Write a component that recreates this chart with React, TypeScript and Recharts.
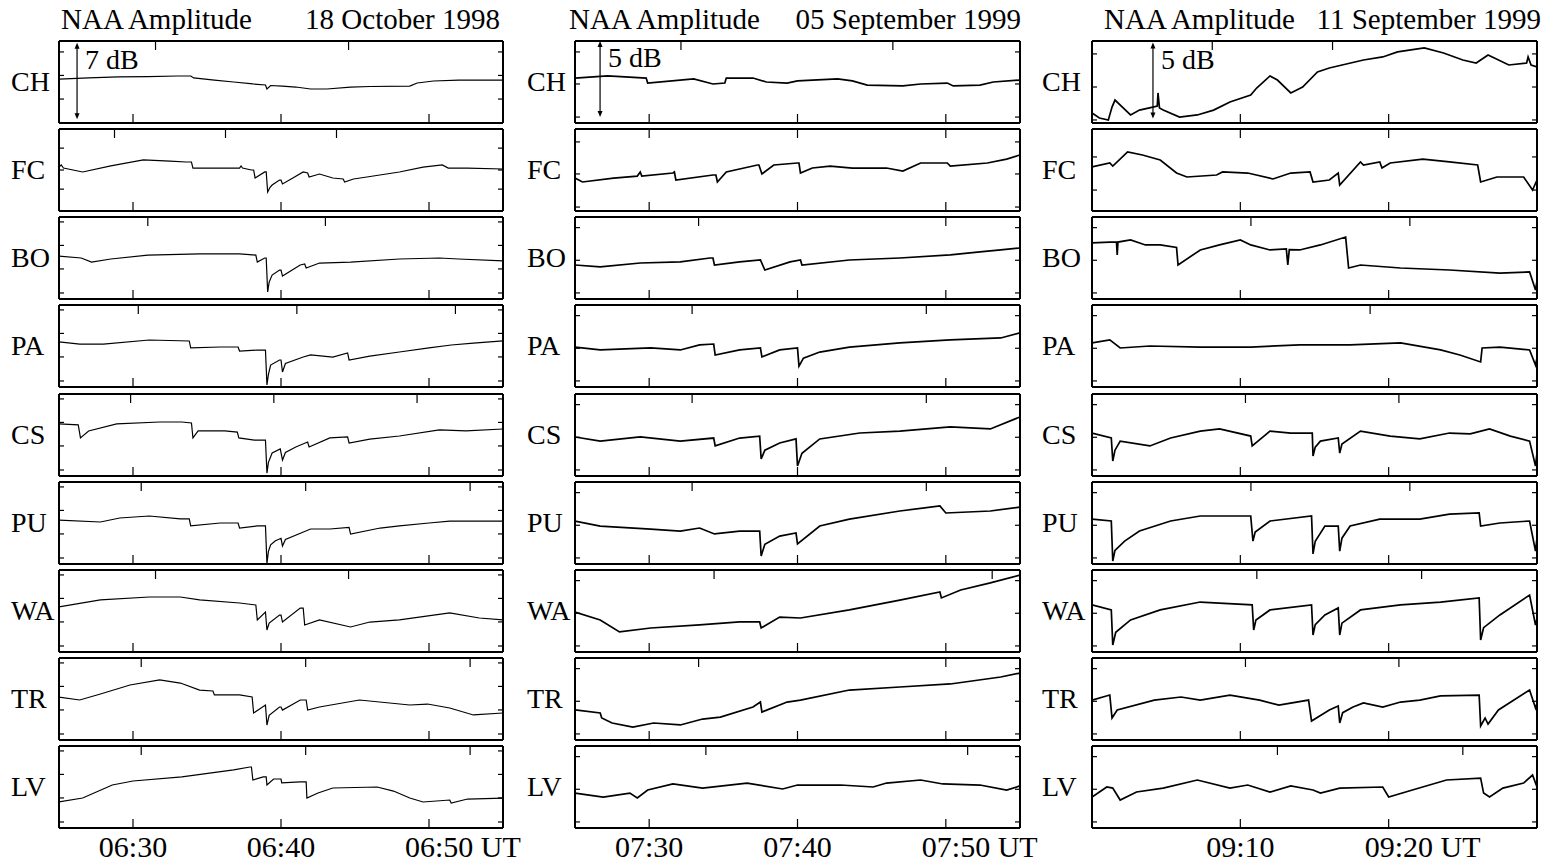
import React from 'react';
import { LineChart, Line, XAxis, YAxis, ReferenceLine } from 'recharts';

type Pt = [number, number];

const STATIONS = ['CH', 'FC', 'BO', 'PA', 'CS', 'PU', 'WA', 'TR', 'LV'];

// 18 October 1998: minutes after 06:25 UT, amplitude in dB relative to panel middle
const oct18CH: Pt[] = [[0, 0.27], [2, 0.37], [4, 0.46], [6, 0.5], [8, 0.55], [8.9, 0.55], [9.1, 0.37], [10.5, 0.18], [11.8, 0], [13.1, -0.18], [13.95, -0.27], [14.05, -0.64], [14.3, -0.32], [15.1, -0.37], [16, -0.46], [17, -0.64], [18.1, -0.64], [19.7, -0.46], [21, -0.41], [23.7, -0.37], [24.2, -0.09], [25.3, 0.09], [27, 0.18], [30, 0.18]];
const oct18FC: Pt[] = [[0, 0.27], [0.15, 0.46], [0.3, 0.18], [1.6, -0.18], [3.5, 0.37], [5.7, 0.92], [7.5, 0.82], [8.6, 0.73], [8.95, 0.73], [9.05, 0.18], [11, 0.18], [12.2, 0.18], [12.3, 0.37], [12.4, 0.18], [13, 0], [13.15, 0], [13.25, -0.73], [13.9, -0.18], [14.0, -0.18], [14.1, -2.01], [14.25, -1.6], [14.4, -1.37], [14.9, -0.92], [15.0, -0.92], [15.1, -1.28], [15.8, -0.73], [16.5, -0.18], [16.8, -0.27], [16.9, -0.64], [17.6, -0.37], [18.5, -0.73], [19.2, -0.82], [19.3, -1.1], [19.9, -0.82], [20.8, -0.64], [23, -0.18], [24.6, 0.27], [25.9, 0.46], [26.3, 0.18], [27.6, 0.18], [30, 0.09]];
const oct18BO: Pt[] = [[0, 0.18], [1.5, 0], [2.2, -0.37], [3.5, -0.09], [6, 0.27], [9.5, 0.37], [12.2, 0.37], [13.3, 0.27], [13.4, -0.37], [13.9, 0], [14.0, 0], [14.1, -3.11], [14.2, -2.2], [14.4, -1.56], [14.9, -1.1], [15.0, -1.1], [15.1, -1.65], [16.3, -0.64], [16.6, -0.55], [16.7, -0.92], [17.6, -0.46], [19.7, -0.37], [23, -0.09], [25.7, 0], [27, -0.09], [30, -0.27]];
const oct18PA: Pt[] = [[0, 0.37], [1.4, 0.18], [3, 0.18], [6.1, 0.55], [8.8, 0.46], [8.9, -0.18], [10.9, -0.09], [12.1, -0.09], [12.2, -0.46], [13.4, -0.37], [13.95, -0.37], [14.05, -3.57], [14.15, -2.6], [14.3, -1.74], [14.9, -1.28], [15.0, -1.28], [15.1, -2.38], [15.3, -1.6], [16.5, -1.01], [17, -0.82], [18.5, -1.01], [19.5, -0.64], [19.6, -1.28], [21, -0.92], [23, -0.55], [25, -0.18], [26.5, 0.09], [28, 0.27], [30, 0.46]];
const oct18CS: Pt[] = [[0, 1.01], [1.3, 0.92], [1.45, -0.27], [2, 0.37], [3.9, 1.01], [6.8, 1.19], [8.3, 1.19], [8.95, 1.1], [9.05, -0.27], [9.4, 0.37], [11.2, 0.37], [12.05, 0.27], [12.15, -0.27], [13.2, -0.46], [13.95, -0.46], [14.05, -3.48], [14.15, -2.5], [14.4, -1.65], [14.95, -1.28], [15.1, -2.29], [15.3, -1.6], [16, -1.1], [16.8, -0.64], [16.9, -1.1], [18.3, -0.27], [19.5, -0.18], [19.6, -0.73], [21, -0.37], [23, -0.09], [25.7, 0.46], [27.5, 0.37], [30, 0.55]];
const oct18PU: Pt[] = [[0, 0.27], [2.8, 0.09], [4.1, 0.46], [6.1, 0.64], [8.2, 0.37], [8.8, 0.37], [8.9, -0.27], [10.9, 0], [12.1, 0], [12.2, -0.46], [13.4, -0.27], [13.95, -0.27], [14.05, -3.7], [14.15, -2.6], [14.3, -2.0], [14.6, -1.65], [15.0, -1.4], [15.1, -2.1], [15.3, -1.5], [17, -0.55], [18.3, -0.55], [19.6, -0.4], [19.7, -1.01], [21.7, -0.46], [23, -0.27], [25, 0], [26.4, 0.18], [30, 0.18]];
const oct18WA: Pt[] = [[0, 0.37], [2.8, 1.01], [6.1, 1.28], [8.2, 1.28], [9.5, 1.01], [12.2, 0.73], [13.3, 0.55], [13.4, -0.82], [13.95, -0.09], [14.05, -1.74], [14.2, -1.1], [14.9, -0.37], [15.0, -0.37], [15.1, -1.01], [16.3, 0.27], [16.5, 0.27], [16.6, -1.28], [17.6, -0.82], [19.7, -1.46], [21, -1.01], [23, -0.82], [26.4, -0.18], [28.4, -0.64], [30, -0.82]];
const oct18TR: Pt[] = [[0, 0.18], [1.4, -0.09], [2.8, 0.46], [4.8, 1.28], [6.8, 1.74], [8.2, 1.46], [9.5, 0.82], [10.4, 0.73], [10.5, 0.37], [12.2, 0.37], [13.05, 0.18], [13.15, -1.28], [13.95, -0.55], [14.05, -2.38], [14.2, -1.5], [14.9, -0.73], [15.0, -0.73], [15.1, -1.01], [16.3, -0.09], [16.7, -0.09], [16.8, -1.01], [17.6, -0.73], [20.3, -0.09], [23.7, -0.55], [24.9, -0.46], [26.4, -0.82], [28, -1.46], [30, -1.28]];
const oct18LV: Pt[] = [[0, -1.37], [1.6, -1.01], [3.6, 0.18], [5, 0.55], [8.3, 0.92], [11.8, 1.56], [12.9, 1.83], [13.0, 1.83], [13.1, 0.64], [13.8, 0.92], [14.0, 0.92], [14.05, 0.18], [14.5, 0.73], [15.0, 0.73], [15.05, 0.37], [16.3, 0.46], [16.7, 0.46], [16.75, -1.01], [17.5, -0.55], [18.5, -0.09], [21.5, 0], [22.6, -0.37], [23.7, -1.01], [24.6, -1.37], [26.4, -1.19], [26.5, -1.46], [27.6, -1.1], [30, -1.01]];

// 05 September 1999: minutes after 07:25 UT
const sep05CH: Pt[] = [[0, 0.26], [2.2, 0.4], [4.8, 0.26], [4.9, -0.07], [8, 0.2], [9.3, -0.13], [10.1, -0.07], [10.2, 0.26], [12, 0.26], [12.9, 0], [14.3, -0.07], [15, 0.07], [17.7, 0.2], [18.7, 0.07], [19.7, -0.2], [22.1, -0.26], [23.3, -0.13], [25.1, -0.07], [25.5, -0.26], [27.3, -0.2], [28.2, 0], [30, 0.13]];
const sep05FC: Pt[] = [[0, -0.53], [0.5, -0.79], [2.6, -0.53], [4.2, -0.4], [4.4, -0.13], [4.5, -0.4], [6.6, -0.2], [6.7, -0.13], [6.8, -0.66], [9.3, -0.33], [9.5, -0.33], [9.6, -0.79], [10.2, -0.13], [12.3, 0.33], [12.4, 0.33], [12.6, -0.26], [13.4, 0.33], [15.0, 0.46], [15.1, 0.46], [15.2, -0.2], [16, 0.13], [17.2, 0.26], [18.7, 0.13], [21, 0.13], [22.1, -0.07], [23.3, 0.46], [25.1, 0.46], [25.3, 0.26], [27.8, 0.46], [29.1, 0.72], [30, 0.99]];
const sep05BO: Pt[] = [[0, -0.46], [1.7, -0.59], [4.4, -0.33], [7.1, -0.26], [9.1, 0], [9.3, 0], [9.4, -0.46], [11.1, -0.26], [12.5, -0.13], [12.8, -0.79], [14.5, -0.26], [15.2, -0.13], [15.3, -0.46], [18.5, -0.13], [21.9, 0], [25.3, 0.2], [27.3, 0.4], [28.7, 0.53], [30, 0.66]];
const sep05PA: Pt[] = [[0, -0.07], [1.7, -0.26], [5.1, -0.13], [7.1, -0.26], [8.4, 0.07], [9.35, 0.13], [9.45, -0.59], [11.1, -0.26], [12.5, -0.13], [12.6, -0.72], [13.8, -0.26], [15.0, -0.13], [15.1, -1.32], [15.4, -0.8], [16.5, -0.4], [18.5, -0.07], [21.9, 0.2], [25.3, 0.4], [28.7, 0.53], [30, 0.86]];
const sep05CS: Pt[] = [[0, -0.13], [1.7, -0.4], [4.4, -0.13], [7.1, -0.4], [9.35, -0.2], [9.45, -0.72], [11.1, -0.2], [12.45, -0.07], [12.55, -1.58], [12.8, -1.0], [13.8, -0.53], [14.9, -0.26], [15.0, -2.04], [15.3, -1.2], [16.5, -0.26], [19.2, 0.13], [21.9, 0.26], [25.3, 0.53], [28, 0.4], [30, 1.19]];
const sep05PU: Pt[] = [[0, 0.13], [1.7, -0.2], [5.1, -0.4], [7.1, -0.53], [8.4, -0.33], [9.4, -0.72], [11.1, -0.53], [12.45, -0.53], [12.55, -2.17], [12.8, -1.4], [13.8, -0.86], [14.9, -0.66], [15.0, -1.38], [16.5, -0.2], [18.5, 0.26], [21.9, 0.79], [24.6, 1.12], [25, 0.66], [28, 0.79], [30, 1.05]];
const sep05WA: Pt[] = [[0, -0.07], [1.7, -0.59], [3, -1.38], [5.1, -1.12], [8.4, -0.92], [11.1, -0.72], [12.45, -0.72], [12.55, -1.12], [13.8, -0.4], [15.2, -0.46], [18.5, 0.07], [21.9, 0.72], [24.6, 1.25], [24.7, 0.86], [26, 1.38], [28, 1.85], [30, 2.37]];
const sep05TR: Pt[] = [[0, -0.72], [1.7, -0.92], [1.8, -1.25], [2.5, -1.58], [3.9, -1.85], [5.3, -1.58], [7.1, -1.71], [8.6, -1.32], [9.8, -1.19], [12, -0.53], [12.5, -0.2], [12.6, -0.86], [14.3, -0.2], [15.2, -0.07], [18.5, 0.59], [21.9, 0.79], [25.3, 0.99], [28.7, 1.45], [30, 1.71]];
const sep05LV: Pt[] = [[0, -0.4], [1.9, -0.66], [3.7, -0.4], [4.2, -0.72], [4.9, -0.2], [6.6, 0.2], [8.6, -0.07], [11.6, 0.26], [14, -0.13], [15, 0.13], [17.9, 0.13], [20.1, 0], [21, 0.26], [23.3, 0.46], [24.8, 0.2], [27.3, 0.13], [29.1, -0.2], [30, 0.07]];

// 11 September 1999: minutes after 09:00 UT
const sep11CH: Pt[] = [[0, -2.04], [0.5, -2.37], [1.1, -2.5], [1.35, -1.65], [1.55, -1.19], [2.4, -1.98], [2.6, -2.17], [3.2, -1.85], [4.1, -1.65], [4.4, -1.58], [4.45, -0.72], [4.55, -1.71], [4.8, -1.85], [5.9, -2.31], [7.1, -2.17], [8.2, -1.85], [9.3, -1.32], [10.7, -0.86], [11.1, -0.4], [12, 0.4], [12.5, 0.13], [13.4, -0.72], [14.2, -0.33], [15.2, 0.66], [16, 0.92], [18.3, 1.45], [19.6, 1.65], [20.6, 1.98], [22.4, 2.24], [23.7, 1.91], [25, 1.45], [25.9, 1.25], [26.7, 1.78], [28.1, 1.12], [29.3, 1.25], [29.4, 1.65], [29.6, 1.12], [30, 0.99]];
const sep11FC: Pt[] = [[0, 0.2], [1.2, 0.46], [1.4, 0.26], [2.4, 1.19], [3.4, 0.99], [4.6, 0.66], [5.7, -0.2], [6.4, -0.46], [8.4, -0.33], [8.8, -0.13], [10.5, -0.2], [12.2, -0.59], [13.4, -0.2], [14.7, -0.13], [14.9, -0.79], [16, -0.66], [16.6, -0.2], [16.7, -0.99], [18.1, 0.53], [18.3, 0.33], [19.4, 0.53], [19.55, 0.13], [20.1, 0.46], [22.3, 0.72], [24.1, 0.53], [26, 0.33], [26.2, -0.79], [27.3, -0.46], [29.1, -0.46], [29.7, -1.32], [30, -0.66]];
const sep11BO: Pt[] = [[0, 0.99], [1.2, 1.05], [1.65, 1.05], [1.7, 0.2], [1.75, 1.05], [2.6, 1.19], [3.6, 0.86], [4.6, 0.86], [5.7, 0.7], [5.8, -0.46], [7.3, 0.53], [8.6, 0.86], [10, 1.19], [10.7, 0.86], [12, 0.53], [13.1, 0.6], [13.2, -0.46], [13.3, 0.55], [14, 0.53], [15.4, 0.86], [17.1, 1.38], [17.3, -0.66], [18.1, -0.46], [20.8, -0.66], [24.1, -0.79], [27.5, -0.99], [29.5, -0.92], [29.9, -2.11], [30, -1.5]];
const sep11PA: Pt[] = [[0, 0.2], [1.2, 0.4], [1.9, -0.13], [3.9, 0], [7.3, -0.07], [10.7, -0.07], [14, 0.07], [17.4, 0.07], [20.8, 0.2], [23.5, -0.26], [24.8, -0.59], [26.2, -1.05], [26.3, -0.13], [27.5, -0.07], [29.5, -0.26], [29.9, -1.25], [30, -0.8]];
const sep11CS: Pt[] = [[0, 0.13], [1.3, -0.2], [1.4, -1.71], [1.55, -1.0], [1.9, -0.4], [3.9, -0.72], [5.3, -0.2], [7.3, 0.26], [8.6, 0.4], [10.7, -0.07], [10.8, -0.72], [12, 0.26], [13.4, 0.13], [14.85, 0.13], [14.9, -1.38], [15.05, -0.8], [15.4, -0.4], [16.6, -0.2], [16.7, -1.19], [16.85, -0.6], [18.1, 0.26], [20.1, -0.07], [22.1, -0.26], [24.1, 0.13], [25.5, 0.07], [26.8, 0.4], [28.2, -0.07], [29.5, -0.4], [29.9, -2.04], [30, -1.2]];
const sep11PU: Pt[] = [[0, 0.26], [1.3, 0.13], [1.4, -2.5], [1.55, -1.8], [2.2, -1.19], [3.2, -0.53], [5.3, 0.13], [7.3, 0.46], [10.7, 0.46], [10.85, -1.19], [11.0, -0.6], [12, 0.13], [14.8, 0.46], [14.9, -2.04], [15.05, -1.2], [15.7, -0.2], [16.6, -0.2], [16.7, -1.85], [16.85, -1.0], [17.4, -0.2], [19.4, 0.26], [22.1, 0.26], [24.1, 0.59], [26.1, 0.66], [26.2, -0.2], [27.5, 0], [29.5, 0.13], [29.9, -1.85], [30, -1]];
const sep11WA: Pt[] = [[0, 0.4], [1.3, 0.07], [1.4, -2.24], [1.6, -1.4], [2.6, -0.59], [4.6, 0.07], [7.3, 0.59], [10.8, 0.4], [10.9, -1.25], [11.05, -0.6], [12, 0.07], [14.8, 0.4], [14.9, -1.58], [15.05, -0.9], [15.7, -0.26], [16.6, 0.2], [16.7, -1.58], [16.85, -0.8], [18.1, 0.07], [20.8, 0.4], [23.5, 0.59], [26.1, 0.86], [26.2, -1.91], [26.4, -1.1], [27.5, -0.26], [29.5, 1.05], [29.9, -0.92], [30, -0.5]];
const sep11TR: Pt[] = [[0, -0.07], [1.2, 0.26], [1.35, -1.25], [1.7, -0.72], [4.2, -0.07], [6, 0.13], [7.3, -0.07], [9.3, 0.26], [11.3, -0.07], [12.6, -0.4], [14.6, -0.07], [14.8, -1.45], [16, -0.72], [16.6, -0.46], [16.7, -1.58], [16.9, -0.9], [17.6, -0.53], [18.3, -0.26], [19.6, -0.53], [20.8, -0.2], [22.1, -0.07], [23.5, 0.2], [26.1, 0.26], [26.2, -1.78], [26.5, -1.25], [26.7, -1.65], [27.4, -0.72], [29.5, 0.59], [29.9, -0.59], [30, -0.3]];
const sep11LV: Pt[] = [[0, -0.66], [1, 0], [1.4, -0.07], [1.9, -0.86], [3, -0.33], [4.8, -0.07], [7.1, 0.46], [9.3, -0.07], [10.5, 0.13], [12, -0.33], [13.4, 0.07], [14.9, -0.2], [15.4, -0.4], [16.7, -0.07], [19.6, 0], [20, -0.66], [21.6, -0.2], [23.9, 0.46], [26.2, 0.59], [26.4, -0.4], [26.8, -0.66], [27.7, -0.07], [29.1, 0.26], [29.7, 0.79], [30, 0]];

// y tick marks on the panel frames (dB)
const oct18Ticks = [[2.75, 0.6, -1.56], [2.0, 0, -1.75], [3.3, 1.15, -1.0, -3.2], [3.3, 1.15, -1.0, -3.2], [3.3, 1.15, -1.0, -3.2], [3.3, 1.15, -1.0, -3.2], [3.3, 1.15, -1.0, -3.2], [3.3, 1.15, -1.0, -3.2], [3.3, 1.15, -1.0, -3.2]];
const sep05Ticks = [[1.98, -0.13, -2.31], [1.85, -0.26, -2.44], [2.0, -0.15, -2.3], [2.0, -0.15, -2.3], [2.0, -0.15, -2.3], [2.0, -0.15, -2.3], [2.0, -0.15, -2.3], [2.0, -0.15, -2.3], [2.0, -0.15, -2.3]];
const sep11Ticks = [[1.85, -0.33, -2.5], [0.86, -1.32], [2.0, -0.15, -2.3], [2.0, -0.15, -2.3], [2.0, -0.15, -2.3], [2.0, -0.15, -2.3], [2.0, -0.15, -2.3], [2.0, -0.15, -2.3], [2.0, -0.15, -2.3]];

const FONT = "'Liberation Serif', 'Times New Roman', Times, serif";
const PANEL_TOP = 41;
const PANEL_STEP = 88.125;
const PANEL_H = 82;
const A = 2; // room given to each frame axis
const LABEL_ROOM = 36;
const LABEL_OVERHANG = 24;

interface Column {
  date: string;
  left: number;
  width: number;
  titleLeft: number;
  dateRight: number;
  labelLeft: number;
  span: number;
  scaleDb: number;
  scaleT: number;
  scaleFrom: number;
  timeTicks: number[];
  timeLabels: string[];
  series: Pt[][];
  yTicks: number[][];
  lineWidth: number;
}

const COLUMNS: Column[] = [
  {
    date: '18 October 1998', left: 59, width: 444, titleLeft: 61, dateRight: 500, labelLeft: 11,
    span: 7.5, scaleDb: 7, scaleT: 1.22, scaleFrom: -3.4,
    timeTicks: [5, 15, 25], timeLabels: ['06:30', '06:40', '06:50 UT'],
    series: [oct18CH, oct18FC, oct18BO, oct18PA, oct18CS, oct18PU, oct18WA, oct18TR, oct18LV],
    yTicks: oct18Ticks, lineWidth: 1.2,
  },
  {
    date: '05 September 1999', left: 575, width: 445, titleLeft: 569, dateRight: 1021, labelLeft: 527,
    span: 5.4, scaleDb: 5, scaleT: 1.69, scaleFrom: -2.3,
    timeTicks: [5, 15, 25], timeLabels: ['07:30', '07:40', '07:50 UT'],
    series: [sep05CH, sep05FC, sep05BO, sep05PA, sep05CS, sep05PU, sep05WA, sep05TR, sep05LV],
    yTicks: sep05Ticks, lineWidth: 1.7,
  },
  {
    date: '11 September 1999', left: 1092, width: 445, titleLeft: 1104, dateRight: 1541, labelLeft: 1042,
    span: 5.4, scaleDb: 5, scaleT: 4.11, scaleFrom: -2.4,
    timeTicks: [10, 20], timeLabels: ['09:10', '09:20 UT'],
    series: [sep11CH, sep11FC, sep11BO, sep11PA, sep11CS, sep11PU, sep11WA, sep11TR, sep11LV],
    yTicks: sep11Ticks, lineWidth: 1.7,
  },
];

const NoLabel = () => <g />;

function ScaleArrow(props: any) {
  const { x1, y1, y2, text } = props;
  const top = Math.min(y1, y2);
  const bot = Math.max(y1, y2);
  return (
    <g>
      <line x1={x1} y1={top + 4} x2={x1} y2={bot - 4} stroke="#000" strokeWidth={1.2} />
      <polygon points={`${x1},${top} ${x1 - 2.5},${top + 6} ${x1 + 2.5},${top + 6}`} fill="#000" />
      <polygon points={`${x1},${bot} ${x1 - 2.5},${bot - 6} ${x1 + 2.5},${bot - 6}`} fill="#000" />
      <text x={x1 + 8} y={top + 26} fontFamily={FONT} fontSize={28} fill="#000">{text}</text>
    </g>
  );
}

function TimeTick(props: any) {
  const { x, y, payload, col } = props;
  const label = col.timeLabels[col.timeTicks.indexOf(payload.value)] ?? '';
  const ut = label.endsWith(' UT');
  return (
    <text x={ut ? x - 24 : x} y={y + 29} textAnchor={ut ? 'start' : 'middle'} fontFamily={FONT} fontSize={30} fill="#000">
      {label}
    </text>
  );
}

function Panel({ col, row }: { col: Column; row: number }) {
  const last = row === STATIONS.length - 1;
  const data = col.series[row].map(([t, v]) => ({ t, v }));
  const half = col.span / 2;
  const top = PANEL_TOP + row * PANEL_STEP;
  const frame = { stroke: '#000', strokeWidth: 2 };
  const tickLine = { stroke: '#000', strokeWidth: 1.2 };
  const below = last ? LABEL_ROOM : 0;
  const right = last ? LABEL_OVERHANG : 0;
  return (
    <div style={{ position: 'absolute', left: col.left - A, top: top - A }}>
      <LineChart
        width={col.width + 2 * A + right}
        height={PANEL_H + 2 * A + below}
        data={data}
        margin={{ top: 0, right: 0, bottom: 0, left: 0 }}
      >
        <XAxis
          dataKey="t" type="number" domain={[0, 30]} allowDataOverflow ticks={col.timeTicks} interval={0}
          height={A + below} tickSize={-9} tickMargin={9} axisLine={frame} tickLine={tickLine}
          tick={last ? (p: any) => <TimeTick {...p} col={col} /> : NoLabel}
        />
        <XAxis
          xAxisId="top" orientation="top" type="number" domain={[0, 30]} allowDataOverflow ticks={col.timeTicks}
          interval={0} height={A} tickSize={-9} axisLine={frame} tickLine={tickLine} tick={NoLabel}
        />
        <YAxis
          type="number" domain={[-half, half]} allowDataOverflow ticks={col.yTicks[row]} interval={0}
          width={A} tickSize={-5} axisLine={frame} tickLine={tickLine} tick={NoLabel}
        />
        <YAxis
          yAxisId="right" orientation="right" type="number" domain={[-half, half]} allowDataOverflow
          ticks={col.yTicks[row]} interval={0} width={A + right} tickSize={-5} axisLine={frame}
          tickLine={tickLine} tick={NoLabel}
        />
        {row === 0 && (
          <ReferenceLine
            segment={[{ x: col.scaleT, y: col.scaleFrom }, { x: col.scaleT, y: col.scaleFrom + col.scaleDb }]}
            stroke="#000"
            shape={(p: any) => <ScaleArrow {...p} text={`${col.scaleDb} dB`} />}
          />
        )}
        <Line
          type="linear" dataKey="v" stroke="#000" strokeWidth={col.lineWidth} dot={false}
          strokeLinejoin="miter" isAnimationActive={false}
        />
      </LineChart>
    </div>
  );
}

export default function App() {
  return (
    <div style={{ position: 'absolute', left: 0, top: 0, width: 1545, height: 863, background: '#fff', overflow: 'hidden' }}>
      {COLUMNS.map((col, ci) =>
        STATIONS.map((s, ri) => <Panel key={`${ci}-${s}`} col={col} row={ri} />)
      )}
      <svg width={1545} height={863} style={{ position: 'absolute', left: 0, top: 0, pointerEvents: 'none' }}>
        {COLUMNS.map((col) => (
          <g key={col.date} fontFamily={FONT} fill="#000">
            <text x={col.titleLeft} y={29} fontSize={29}>NAA Amplitude</text>
            <text x={col.dateRight} y={29} fontSize={29} textAnchor="end">{col.date}</text>
            {STATIONS.map((s, ri) => (
              <text key={s} x={col.labelLeft} y={PANEL_TOP + ri * PANEL_STEP + 50} fontSize={28}>{s}</text>
            ))}
          </g>
        ))}
      </svg>
    </div>
  );
}
